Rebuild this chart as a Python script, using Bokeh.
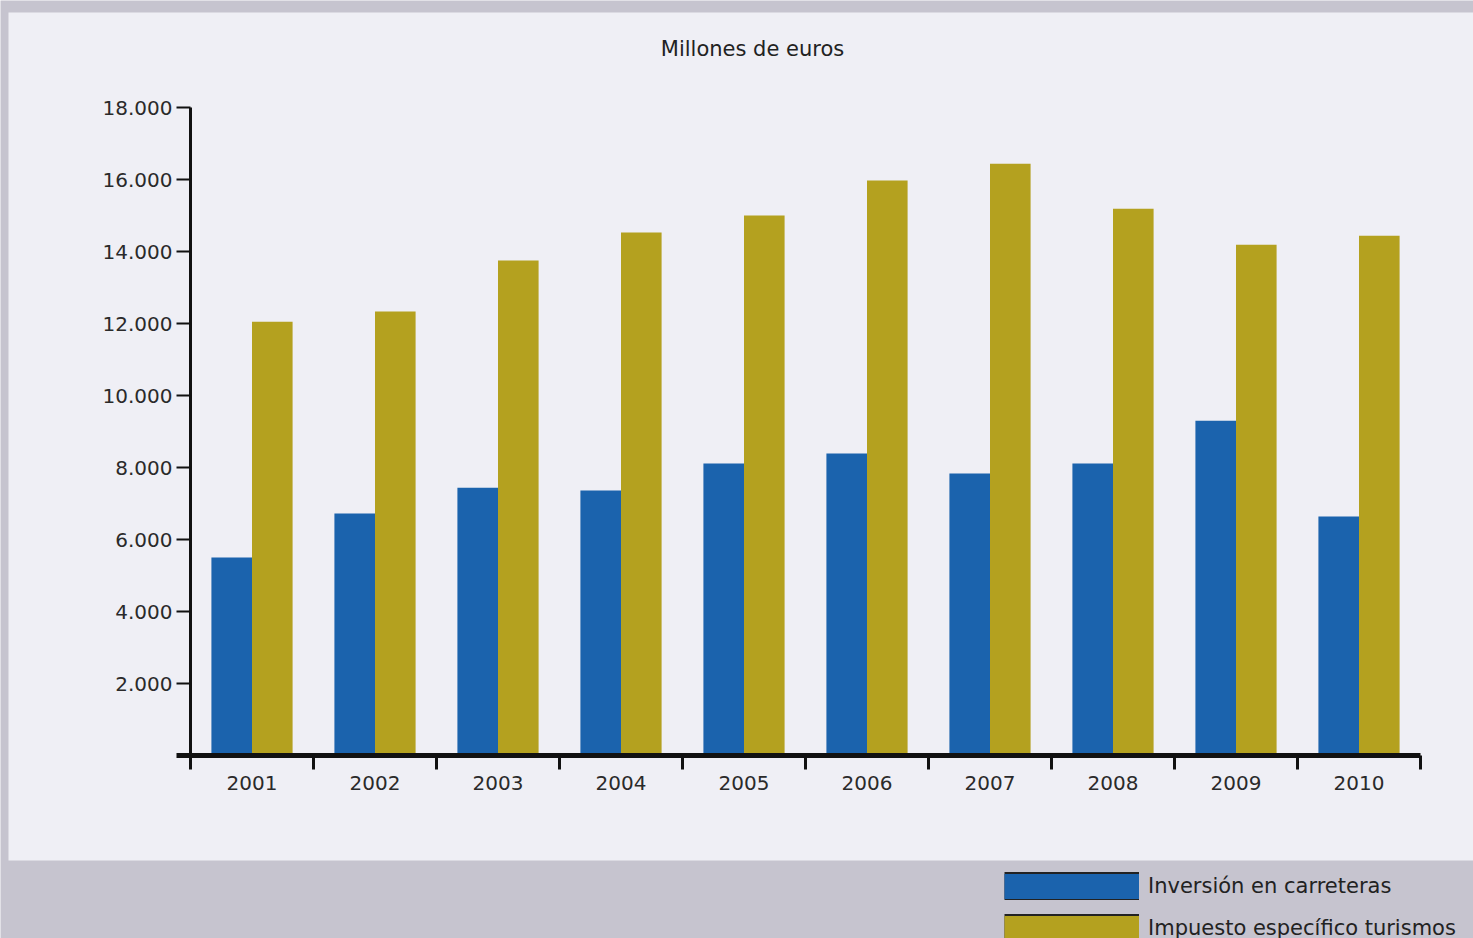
from bokeh.plotting import figure
from bokeh.models import (ColumnDataSource, FixedTicker, Range1d, Legend, LegendItem,
                          BoxAnnotation, Label)
from bokeh.transform import dodge
from bokeh.embed import file_html
from bokeh.resources import INLINE
import numpy as np

years = ["2001", "2002", "2003", "2004", "2005", "2006", "2007", "2008", "2009", "2010"]
inversion = [5500, 6720, 7440, 7360, 8110, 8390, 7830, 8110, 9300, 6640]
impuesto = [12050, 12330, 13750, 14530, 15000, 15970, 16440, 15190, 14190, 14440]
y_ticks = [2000, 4000, 6000, 8000, 10000, 12000, 14000, 16000, 18000]

BLUE = "#1b63ad"
OLIVE = "#b4a11f"
PANEL = "#efeff5"
BAND = "#c6c4cf"
FONT = "DejaVu Sans"
INK = "#111111"

# Canvas layout (pixels): the frame fills the whole canvas
W, H = 1473, 938
X0_PX, XSTEP_PX = 190, 123.0          # pixel of category boundary 0, pixels per category
Y0_PX, YSCALE = 755, 0.036            # pixel of value 0, pixels per unit value

def px_x(px):
    return (px - X0_PX) / XSTEP_PX

def px_y(py):
    return (Y0_PX - py) / YSCALE

pos = (np.arange(len(years)) + 0.5).tolist()
src = ColumnDataSource(dict(x=pos, inv=inversion, imp=impuesto))

p = figure(width=W, height=H, output_backend="svg", toolbar_location=None,
           x_range=Range1d(px_x(0), px_x(W)), y_range=Range1d(px_y(H), px_y(0)),
           min_border=0)
p.background_fill_color = BAND
p.border_fill_color = BAND
p.outline_line_color = None
p.grid.visible = False

# light panel
p.add_layout(BoxAnnotation(left=px_x(8), right=None, top=px_y(12), bottom=px_y(860),
                           fill_color=PANEL, fill_alpha=1.0, line_color=None,
                           level="underlay"))

p.add_layout(Label(x=px_x(752), y=px_y(48), text="Millones de euros",
                   text_align="center", text_baseline="middle",
                   text_font=FONT, text_font_size="21px", text_color="#222222"))

r1 = p.vbar(x=dodge("x", -0.165), top="inv", width=0.33, source=src,
            fill_color=BLUE, line_color=None)
r2 = p.vbar(x=dodge("x", 0.165), top="imp", width=0.33, source=src,
            fill_color=OLIVE, line_color=None)

xa = p.xaxis[0]
xa.fixed_location = 0
xa.bounds = (px_x(176), len(years))
xa.ticker = FixedTicker(ticks=pos, minor_ticks=list(range(len(years) + 1)))
xa.major_label_overrides = {v: y for v, y in zip(pos, years)}
xa.major_tick_out = 0
xa.major_tick_in = 0
xa.minor_tick_out = 14
xa.minor_tick_in = 0
xa.minor_tick_line_width = 3
xa.minor_tick_line_color = INK
xa.axis_line_width = 5
xa.axis_line_color = INK
xa.major_label_standoff = 6
xa.major_label_text_font = FONT
xa.major_label_text_font_size = "20px"
xa.major_label_text_color = "#2a2a2a"

ya = p.yaxis[0]
ya.fixed_location = 0
ya.bounds = (0, y_ticks[-1])
ya.ticker = FixedTicker(ticks=y_ticks, minor_ticks=[])
ya.major_label_overrides = {v: f"{v:,}".replace(",", ".") for v in y_ticks}
ya.major_tick_out = 14
ya.major_tick_in = 0
ya.major_tick_line_width = 2
ya.major_tick_line_color = INK
ya.axis_line_width = 3
ya.axis_line_color = INK
ya.major_label_standoff = 4
ya.major_label_text_font = FONT
ya.major_label_text_font_size = "20px"
ya.major_label_text_color = "#2a2a2a"

# legend swatches: hidden thick lines (dark outline + coloured fill), drawn only in the legend
def swatch(col, color):
    edge = p.line(x="x", y=col, source=src, line_color="#222222", line_width=29,
                  visible=False)
    body = p.line(x="x", y=col, source=src, line_color=color, line_width=25,
                  visible=False)
    return [edge, body]

legend = Legend(items=[LegendItem(label="Inversión en carreteras", renderers=swatch("inv", BLUE)),
                       LegendItem(label="Impuesto específico turismos", renderers=swatch("imp", OLIVE))],
                location=(1004, -4), glyph_width=135, glyph_height=28,
                label_standoff=9, spacing=14, padding=0, margin=0,
                background_fill_alpha=0, border_line_color=None,
                label_text_font=FONT, label_text_font_size="21px",
                label_text_color="#222222")
p.add_layout(legend)

open("out.html", "w").write(file_html(p, INLINE))
